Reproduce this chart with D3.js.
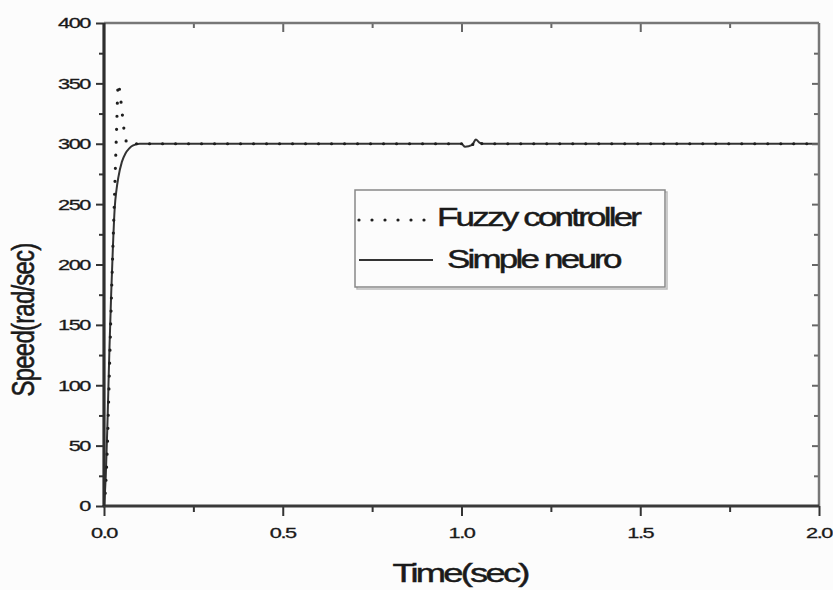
<!DOCTYPE html>
<html>
<head>
<meta charset="utf-8">
<script src="https://cdn.jsdelivr.net/npm/d3@7"></script>
<style>
  html, body { margin: 0; padding: 0; background: #fcfcfc; }
  svg { display: block; }
  text { font-family: "Liberation Sans", Arial, sans-serif; fill: #1a1a1a; stroke: #1a1a1a; stroke-width: 0.45px; }
</style>
</head>
<body>
<svg id="chart" width="833" height="590"></svg>
<script>
// Speed response of the drive: fuzzy controller vs. simple neuro controller
const timeFuzzy  = [0, 0.005, 0.01, 0.015, 0.02, 0.025, 0.03, 0.035, 0.04, 0.045, 0.05, 0.055, 0.06, 0.07, 0.08, 0.1, 0.5, 1.0, 1.01, 1.03, 1.04, 1.05, 1.06, 1.5, 2.0];
const speedFuzzy = [0, 18, 55, 110, 165, 215, 262, 310, 350, 341, 328, 314, 304, 299, 300, 300, 300, 300, 297.5, 299, 303.5, 301, 300, 300, 300];

const timeNeuro  = [0, 0.005, 0.01, 0.015, 0.02, 0.025, 0.03, 0.035, 0.04, 0.05, 0.06, 0.07, 0.08, 0.1, 0.5, 1.0, 1.01, 1.03, 1.04, 1.05, 1.06, 1.5, 2.0];
const speedNeuro = [0, 25, 72, 128, 175, 215, 247, 262, 272, 285, 292, 296, 298.5, 300, 300, 300, 297.5, 299, 303.5, 301, 300, 300, 300];

const xMajor = [0, 0.5, 1.0, 1.5, 2.0];
const xMinor = [0.25, 0.75, 1.25, 1.75];
const xTickLabels = ["0.0", "0.5", "1.0", "1.5", "2.0"];
const yMajor = [0, 50, 100, 150, 200, 250, 300, 350, 400];
const yMinor = [25, 75, 125, 175, 225, 275, 325, 375];
const yTickLabels = ["0", "50", "100", "150", "200", "250", "300", "350", "400"];

const seriesNames = ["Fuzzy controller", "Simple neuro"];

const svg = d3.select("#chart");
const plotL = 104, plotR = 819, plotT = 23, plotB = 506;

const x = d3.scaleLinear().domain([0, 2]).range([plotL, plotR]);
const y = d3.scaleLinear().domain([0, 400]).range([plotB, plotT]);

// --- curves ---
const line = d3.line().x(d => x(d[0])).y(d => y(d[1])).curve(d3.curveMonotoneX);
const neuroPts = timeNeuro.map((t, i) => [t, speedNeuro[i]]);
const fuzzyPts = timeFuzzy.map((t, i) => [t, speedFuzzy[i]]);

svg.append("path").datum(neuroPts).attr("d", line)
  .attr("fill", "none").attr("stroke", "#333").attr("stroke-width", 2);

svg.append("path").datum(fuzzyPts).attr("d", line)
  .attr("fill", "none").attr("stroke", "#1e1e1e").attr("stroke-width", 3.2)
  .attr("stroke-linecap", "round").attr("stroke-dasharray", "0 13");

// --- axes (tick marks) ---
function ticks(axisGen, transform, values, size, color) {
  const g = svg.append("g").attr("transform", transform)
    .call(axisGen.tickValues(values).tickSize(size).tickFormat(""));
  g.select(".domain").remove();
  g.selectAll(".tick line").attr("stroke", color || "#333").attr("stroke-width", 2);
  return g;
}
// outward ticks on bottom and left
ticks(d3.axisBottom(x), `translate(0,${plotB})`, xMajor, 10);
ticks(d3.axisBottom(x), `translate(0,${plotB})`, xMinor, 6);
ticks(d3.axisLeft(y), `translate(${plotL},0)`, yMajor, 8);
ticks(d3.axisLeft(y), `translate(${plotL},0)`, yMinor, 5);
// inward ticks on top and right
ticks(d3.axisBottom(x), `translate(0,${plotT})`, xMajor.slice(1, -1), 9, "#666");
ticks(d3.axisBottom(x), `translate(0,${plotT})`, xMinor, 5, "#666");
ticks(d3.axisLeft(y), `translate(${plotR},0)`, yMajor.slice(1, -1), 7, "#666");
ticks(d3.axisLeft(y), `translate(${plotR},0)`, yMinor, 5, "#666");

// frame
svg.append("line").attr("x1", plotL).attr("x2", plotR).attr("y1", plotT).attr("y2", plotT)
  .attr("stroke", "#777").attr("stroke-width", 2.5);
svg.append("line").attr("x1", plotR).attr("x2", plotR).attr("y1", plotT).attr("y2", plotB)
  .attr("stroke", "#777").attr("stroke-width", 2.5);
svg.append("line").attr("x1", plotL).attr("x2", plotR).attr("y1", plotB).attr("y2", plotB)
  .attr("stroke", "#3a3a3a").attr("stroke-width", 3);
svg.append("line").attr("x1", plotL).attr("x2", plotL).attr("y1", plotT).attr("y2", plotB)
  .attr("stroke", "#2e2e2e").attr("stroke-width", 3.2);

// --- tick labels (wide, tightly set digits) ---
const sx = 1.45;
svg.append("g").selectAll("text").data(yMajor).join("text")
  .attr("transform", d => `translate(90,${y(d)}) scale(${sx},1)`)
  .attr("dy", "0.36em").attr("text-anchor", "end")
  .attr("font-size", 15).attr("letter-spacing", -1)
  .style("stroke-width", "0.3px")
  .text((d, i) => yTickLabels[i]);

svg.append("g").selectAll("text").data(xMajor).join("text")
  .attr("transform", d => `translate(${x(d)},538) scale(${sx},1)`)
  .attr("text-anchor", "middle")
  .attr("font-size", 15).attr("letter-spacing", -1)
  .style("stroke-width", "0.3px")
  .text((d, i) => xTickLabels[i]);

// --- axis titles ---
svg.append("text")
  .attr("transform", `translate(460,582) scale(1.4,1)`)
  .attr("text-anchor", "middle").attr("font-size", 26).attr("letter-spacing", -2)
  .text("Time(sec)");

svg.append("text")
  .attr("transform", `translate(34,320) rotate(-90) scale(1,1.3)`)
  .attr("text-anchor", "middle").attr("font-size", 24).attr("letter-spacing", -0.8)
  .text("Speed(rad/sec)");

// --- legend ---
const lg = svg.append("g");
lg.append("rect").attr("x", 357).attr("y", 192).attr("width", 310).attr("height", 97)
  .attr("fill", "none").attr("stroke", "#bbb").attr("stroke-width", 1.5);
lg.append("rect").attr("x", 355).attr("y", 190).attr("width", 310).attr("height", 97)
  .attr("fill", "#fcfcfc").attr("stroke", "#888").attr("stroke-width", 1.5);

const legendRows = [
  { name: seriesNames[0], ly: 220, tx: 437, ty: 226, dash: "0 13", w: 3.2, cap: "round", color: "#1e1e1e" },
  { name: seriesNames[1], ly: 260, tx: 447, ty: 268, dash: null, w: 2, cap: "butt", color: "#333" }
];
legendRows.forEach(r => {
  lg.append("line").attr("x1", 359).attr("x2", 433).attr("y1", r.ly).attr("y2", r.ly)
    .attr("stroke", r.color).attr("stroke-width", r.w).attr("stroke-linecap", r.cap)
    .attr("stroke-dasharray", r.dash);
  lg.append("text").attr("transform", `translate(${r.tx},${r.ty}) scale(1.4,1)`)
    .attr("font-size", 25).attr("letter-spacing", -2).text(r.name);
});
</script>
</body>
</html>
